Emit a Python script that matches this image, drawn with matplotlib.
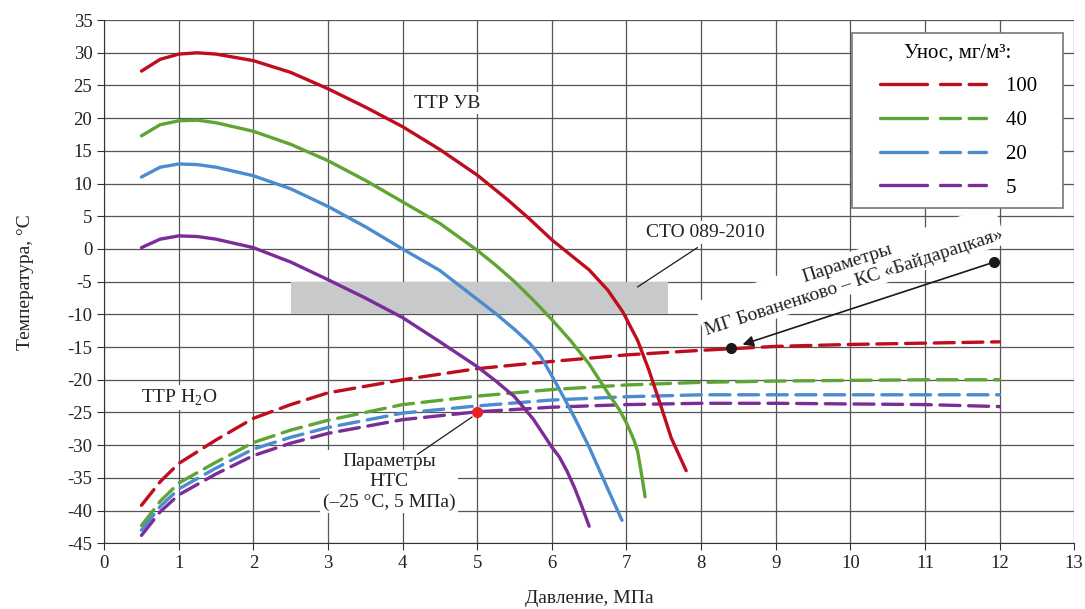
import matplotlib.pyplot as plt
from matplotlib.lines import Line2D
from matplotlib.legend_handler import HandlerBase

plt.rcParams['font.family'] = ['Liberation Serif', 'DejaVu Serif']
plt.rcParams['axes.unicode_minus'] = False

# ТТР УВ (solid)
x_red = [0.5, 0.75, 1.0, 1.25, 1.5, 2.0, 2.5, 3.0, 3.5, 4.0, 4.5, 5.0, 5.4, 5.7, 6.0, 6.25, 6.5, 6.75, 6.95, 7.15, 7.3, 7.45, 7.6, 7.8]
y_red = [27.2, 29.0, 29.8, 30.0, 29.8, 28.8, 27.0, 24.5, 21.7, 18.7, 15.2, 11.3, 7.6, 4.6, 1.4, -0.9, -3.2, -6.3, -9.6, -14.0, -18.5, -23.6, -28.9, -33.9]
x_green = [0.5, 0.75, 1.0, 1.25, 1.5, 2.0, 2.5, 3.0, 3.5, 4.0, 4.5, 5.0, 5.25, 5.5, 5.75, 6.0, 6.25, 6.5, 6.75, 6.9, 7.0, 7.1, 7.15, 7.2, 7.25]
y_green = [17.3, 19.0, 19.6, 19.7, 19.3, 18.0, 16.0, 13.5, 10.5, 7.2, 3.9, -0.2, -2.5, -5.0, -7.8, -10.8, -14.0, -17.6, -22.0, -24.5, -26.6, -29.2, -31.0, -34.3, -37.9]
x_blue = [0.5, 0.75, 1.0, 1.25, 1.5, 2.0, 2.5, 3.0, 3.5, 4.0, 4.5, 5.0, 5.25, 5.5, 5.7, 5.85, 6.0, 6.15, 6.3, 6.5, 6.75, 6.94]
y_blue = [11.0, 12.5, 13.0, 12.9, 12.5, 11.2, 9.2, 6.5, 3.4, 0.0, -3.3, -7.7, -9.9, -12.3, -14.4, -16.4, -19.4, -22.5, -25.7, -30.3, -36.7, -41.5]
x_purple = [0.5, 0.75, 1.0, 1.25, 1.5, 2.0, 2.5, 3.0, 3.5, 4.0, 4.5, 5.0, 5.25, 5.5, 5.75, 6.0, 6.1, 6.2, 6.3, 6.4, 6.5]
y_purple = [0.2, 1.5, 2.0, 1.9, 1.5, 0.2, -2.0, -4.7, -7.5, -10.5, -14.2, -18.0, -20.2, -22.6, -26.0, -30.3, -31.8, -33.9, -36.4, -39.3, -42.4]

# ТТР H2O (dashed)
x_w = [0.5, 0.75, 1.0, 1.5, 2.0, 2.5, 3.0, 4.0, 5.0, 6.0, 7.0, 8.0, 9.0, 10.0, 11.0, 12.0]
w_red = [-39.2, -35.6, -32.8, -29.2, -25.9, -23.8, -22.0, -20.0, -18.3, -17.2, -16.2, -15.5, -14.9, -14.6, -14.4, -14.2]
w_green = [-42.3, -38.6, -35.8, -32.6, -29.6, -27.7, -26.2, -23.8, -22.5, -21.5, -20.8, -20.4, -20.2, -20.1, -20.0, -20.0]
w_blue = [-43.0, -39.4, -36.7, -33.5, -30.6, -28.8, -27.3, -25.1, -24.0, -23.1, -22.6, -22.3, -22.3, -22.3, -22.3, -22.3]
w_purple = [-43.8, -40.2, -37.6, -34.4, -31.6, -29.7, -28.2, -26.1, -24.9, -24.2, -23.8, -23.6, -23.6, -23.7, -23.8, -24.1]

labels = ['100', '40', '20', '5']
colors = ['#c00d1e', '#5ea534', '#4a8ccf', '#7b2c98']

sto_x = [2.5, 7.55]
sto_y = [-10, -5]
nts_point = (5, -25)
mg_points = ([11.93, 8.4], [-2.0, -15.1])

dash = (0, (6, 2.6))


class SolidDashHandler(HandlerBase):
    # solid segment, then a dashed one, like in the original legend
    def create_artists(self, legend, orig_handle, xdescent, ydescent,
                       width, height, fontsize, trans):
        c = orig_handle.get_color()
        y = height / 2 - ydescent
        x0 = -xdescent
        f = width / 124.0
        a = Line2D([x0 + 18 * f, x0 + 65 * f], [y, y], color=c, lw=2.4,
                   solid_capstyle='round', transform=trans)
        b = Line2D([x0 + 78 * f, x0 + 124 * f], [y, y], color=c, lw=2.4, ls=dash,
                   dash_capstyle='round', transform=trans)
        return [a, b]


fig, ax = plt.subplots(figsize=(10.85, 6.09), dpi=100)
fig.subplots_adjust(left=0.096, right=0.99, top=0.967, bottom=0.108)

ax.set_xlim(0, 13)
ax.set_ylim(-45, 35)
ax.set_xticks(range(0, 14))
ax.set_yticks(range(-45, 36, 5))
ax.grid(True, color='#555555', lw=0.9, zorder=0)
ax.set_axisbelow(True)
for s in ['top', 'right']:
    ax.spines[s].set_visible(False)
ax.spines['left'].set_color('#333333')
ax.spines['bottom'].set_color('#333333')
ax.tick_params(labelsize=13.5, length=5, color='#333333', labelcolor='#222222')

ax.fill_between(sto_x, sto_y[0], sto_y[1], color='#c8c9cb', lw=0, zorder=1)

solid_x = [x_red, x_green, x_blue, x_purple]
solid_y = [y_red, y_green, y_blue, y_purple]
water = [w_red, w_green, w_blue, w_purple]
handles = []
for xs, ys, wy, c in zip(solid_x, solid_y, water, colors):
    ax.plot(x_w, wy, color=c, lw=2.4, ls=dash, dash_capstyle='round', zorder=3)
    ax.plot(xs, ys, color=c, lw=2.4, solid_capstyle='round', solid_joinstyle='round', zorder=4)
    handles.append(Line2D([], [], color=c))

# annotations
ax.plot(*nts_point, 'o', color='#ee1c24', ms=7, zorder=6)
ax.plot(mg_points[0], mg_points[1], 'o', color='#1a1a1a', ms=7, zorder=6)
ax.annotate('', xy=(mg_points[0][1] + 0.12, mg_points[1][1] + 0.35),
            xytext=(mg_points[0][0], mg_points[1][0]),
            arrowprops=dict(arrowstyle='-|>', color='#1a1a1a', lw=1.2,
                            mutation_scale=16, shrinkA=4, shrinkB=2), zorder=5)

box = dict(facecolor='white', edgecolor='none', pad=2)
ax.text(4.6, 22.3, 'ТТР УВ', fontsize=14, ha='center', va='center', color='#222222', bbox=box, zorder=5)
ax.text(1.0, -22.7, r'ТТР H$_\mathregular{2}$O', fontsize=14, ha='center', va='center', color='#222222', bbox=box, zorder=5)
ax.text(8.06, 2.5, 'СТО 089-2010', fontsize=14, ha='center', va='center', color='#222222', bbox=box, zorder=5)
ax.plot([7.95, 7.15], [0.2, -5.8], color='#1a1a1a', lw=0.9, zorder=5)
ax.text(3.82, -35.6, 'Параметры\nНТС\n(–25 °С, 5 МПа)', fontsize=14, ha='center', va='center',
        linespacing=1.25, color='#222222', bbox=box, zorder=5)
ax.plot([4.93, 4.2], [-25.7, -31.4], color='#1a1a1a', lw=0.9, zorder=5)
ax.text(10.0, -3.7, 'Параметры\nМГ Бованенково – КС «Байдарацкая»', fontsize=14, ha='center', va='center',
        rotation=18, rotation_mode='anchor', linespacing=1.3, color='#222222',
        bbox=dict(facecolor='white', edgecolor='none', pad=1), zorder=5)

ax.set_xlabel('Давление, МПа', fontsize=14, color='#222222', labelpad=13)
ax.set_ylabel('Температура, °С', fontsize=14, color='#222222', labelpad=24)

leg = ax.legend(handles, labels, handler_map={Line2D: SolidDashHandler()},
                title='Унос, мг/м³:', loc='upper right', bbox_to_anchor=(0.989, 0.975),
                borderaxespad=0, fontsize=15, handlelength=5.95, handletextpad=0.95,
                labelspacing=0.68, borderpad=0.5, fancybox=False, framealpha=1,
                edgecolor='#777777')
leg.get_title().set_fontsize(15)
leg.get_title().set_fontweight('normal')
for t in leg.get_texts():
    t.set_text(t.get_text() + '   ')
leg.get_frame().set_linewidth(1.2)
leg.set_zorder(7)

fig.savefig('out.png', dpi=100)
